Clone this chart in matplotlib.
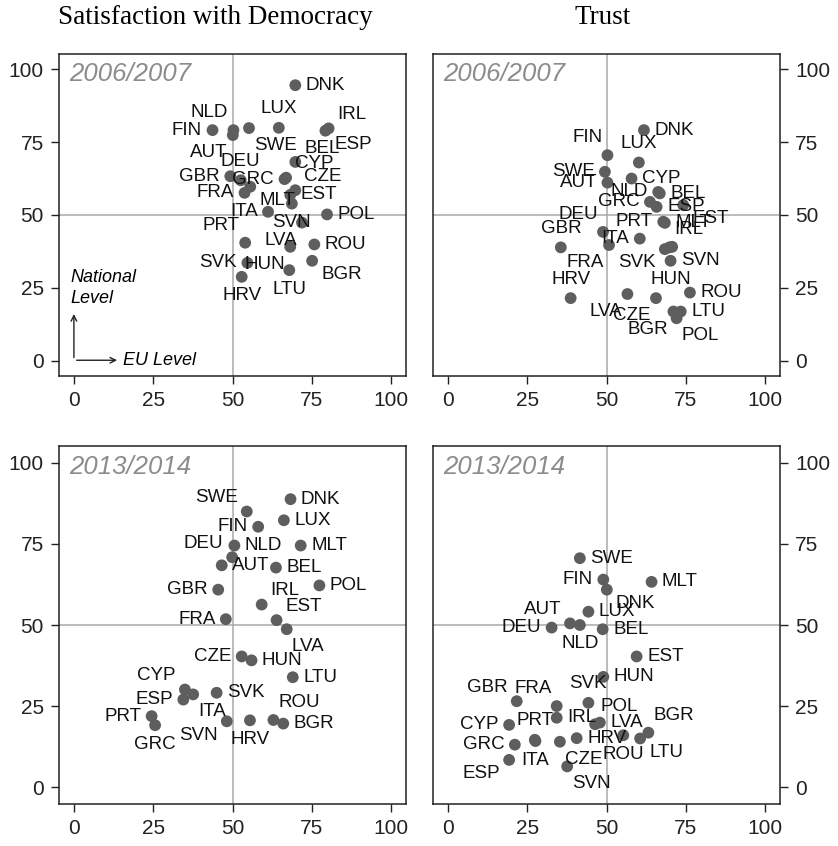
import numpy as np
import matplotlib
matplotlib.use("Agg")
import matplotlib.pyplot as plt

# country codes, same order for every panel
countries = ["AUT", "BEL", "BGR", "CYP", "CZE", "DEU", "DNK", "ESP", "EST", "FIN",
             "FRA", "GBR", "GRC", "HRV", "HUN", "IRL", "ITA", "LTU", "LUX", "LVA",
             "MLT", "NLD", "POL", "PRT", "ROU", "SVK", "SVN", "SWE"]

# Satisfaction with democracy 2006/2007 (x = EU level, y = national level)
sat_0607_eu = [50.1, 69.8, 75.1, 66.9, 69.8, 52.6, 69.8, 79.3, 68.2, 43.7,
               53.8, 49.3, 66.4, 52.9, 68.2, 80.3, 61.2, 67.9, 64.6, 71.9,
               55.6, 50.3, 79.8, 54.0, 75.8, 54.7, 68.7, 55.2]
sat_0607_nat = [77.4, 68.2, 34.3, 62.8, 58.5, 61.9, 94.5, 78.9, 56.9, 79.1,
                57.6, 63.3, 62.3, 28.8, 39.1, 79.7, 51.1, 31.1, 79.9, 47.4,
                59.7, 79.1, 50.2, 40.5, 39.9, 33.6, 53.9, 79.8]

# Trust 2006/2007
tru_0607_eu = [50.3, 66.8, 71.1, 57.9, 65.6, 48.9, 61.8, 65.8, 74.2, 50.3,
               50.8, 35.6, 63.7, 38.7, 70.2, 69.8, 60.5, 73.4, 60.2, 56.6,
               68.4, 66.3, 72.1, 67.9, 76.3, 68.4, 70.7, 49.5]
tru_0607_nat = [61.1, 57.4, 16.9, 62.5, 21.5, 44.2, 79.1, 52.8, 53.4, 70.5,
                39.7, 38.9, 54.5, 21.5, 34.3, 38.9, 41.9, 16.9, 68.0, 22.9,
                47.3, 57.9, 14.6, 47.7, 23.4, 38.3, 39.1, 64.8]

# Satisfaction with democracy 2013/2014
sat_1314_eu = [46.6, 63.7, 66.0, 35.0, 52.9, 49.9, 68.3, 34.5, 63.9, 58.1,
               47.9, 45.5, 25.6, 55.5, 56.0, 59.2, 37.6, 69.0, 66.2, 67.1,
               71.5, 50.6, 77.4, 24.5, 62.9, 45.0, 48.2, 54.5]
sat_1314_nat = [68.4, 67.7, 19.6, 30.1, 40.3, 70.9, 88.8, 27.0, 51.5, 80.3,
                51.8, 60.9, 19.1, 20.6, 39.1, 56.3, 28.6, 33.9, 82.3, 48.7,
                74.5, 74.5, 62.2, 21.9, 20.7, 29.1, 20.3, 85.0]

# Trust 2013/2014
tru_1314_eu = [38.5, 48.8, 63.2, 19.3, 35.3, 32.7, 50.1, 19.3, 59.5, 49.0,
               34.3, 21.7, 21.1, 40.6, 49.0, 34.3, 27.6, 60.6, 44.3, 47.9,
               64.2, 41.6, 46.4, 27.4, 55.3, 44.3, 37.6, 41.6]
tru_1314_nat = [50.5, 48.7, 16.8, 19.2, 14.0, 49.2, 60.9, 8.4, 40.3, 64.0,
                25.0, 26.5, 13.1, 15.1, 34.0, 21.4, 14.2, 15.0, 54.1, 19.9,
                63.3, 50.0, 19.4, 14.6, 16.0, 26.0, 6.4, 70.6]

col_titles = ["Satisfaction with Democracy", "Trust"]
years = ["2006/2007", "2013/2014"]
ticks = [0, 25, 50, 75, 100]

# label placement (clock positions, like stata mlabposition)
pos_sat_0607 = [7, 2, 4, 2, 2, 12, 3, 4, 3, 9, 9, 9, 9, 6, 7, 2, 9, 6, 12, 7,
                4, 11, 3, 11, 3, 9, 6, 5]
pos_tru_0607 = [9, 3, 7, 3, 7, 11, 3, 3, 4, 11, 7, 12, 9, 12, 6, 1, 9, 3, 12, 7,
                3, 9, 5, 9, 3, 8, 4, 9]
pos_sat_1314 = [3, 3, 3, 10, 9, 10, 3, 9, 2, 9, 9, 9, 6, 6, 3, 2, 5, 3, 3, 5,
                3, 3, 3, 9, 1, 3, 8, 10]
pos_tru_1314 = [10, 3, 1, 9, 5, 9, 4, 8, 3, 9, 11, 10, 9, 3, 3, 3, 6, 4, 3, 3,
                3, 6, 1, 12, 6, 12, 5, 3]

W, H = 838, 846
fig = plt.figure(figsize=(W / 100, H / 100), dpi=100)
plt.rcParams['font.family'] = ['Liberation Sans', 'DejaVu Sans']

dot_col = '#5e5e5e'
tick_font = dict(family=['Liberation Sans Narrow', 'Liberation Sans'], size=15)


def place(pos, r=7.5):
    ang = np.deg2rad(90 - pos * 30)
    dx, dy = r * np.cos(ang), r * np.sin(ang)
    ha = 'left' if dx > 1 else ('right' if dx < -1 else 'center')
    va = 'bottom' if dy > 1 else ('top' if dy < -1 else 'center')
    return dx, dy, ha, va


def panel(rect, xs, ys, pos, year, right=False, arrows=False):
    l, t, r, b = rect
    ax = fig.add_axes([l / W, 1 - b / H, (r - l) / W, (b - t) / H])
    ax.set_xlim(-4.7, 104.7)
    ax.set_ylim(-5.2, 105.2)
    ax.axvline(50, color='#a8a8a8', lw=1.1, zorder=0)
    ax.axhline(50, color='#a8a8a8', lw=1.1, zorder=0)
    ax.scatter(xs, ys, s=72, color=dot_col, edgecolors='none', zorder=3)
    for c, x, y, p in zip(countries, xs, ys, pos):
        dx, dy, ha, va = place(p)
        ax.annotate(c, (x, y), xytext=(dx, dy), textcoords='offset points',
                    ha=ha, va=va, fontsize=13.5, color='#111111', zorder=4)
    ax.text(0.03, 0.975, year, transform=ax.transAxes, ha='left', va='top',
            fontsize=18.5, style='italic', color='#8c8c8c')
    ax.set_xticks(ticks)
    ax.set_yticks(ticks)
    ax.set_xticklabels([str(v) for v in ticks], fontdict=tick_font)
    ax.set_yticklabels([str(v) for v in ticks], fontdict=tick_font)
    ax.tick_params(direction='out', length=6, width=1, colors='#222222', pad=5)
    if right:
        ax.yaxis.tick_right()
    for sp in ax.spines.values():
        sp.set_linewidth(1.1)
        sp.set_color('#222222')
    if arrows:
        ax.annotate('', xy=(0, 17), xytext=(0, 0.2),
                    arrowprops=dict(arrowstyle='->', lw=1, color='#222222'))
        ax.annotate('', xy=(14.5, 0.2), xytext=(0, 0.2),
                    arrowprops=dict(arrowstyle='->', lw=1, color='#222222'))
        ax.text(15.5, 0.2, 'EU Level', style='italic', fontsize=13, va='center')
        ax.text(-1, 25, 'National\nLevel', style='italic', fontsize=13,
                va='center', linespacing=1.25)
    return ax


panel((59, 54, 406, 376), sat_0607_eu, sat_0607_nat, pos_sat_0607, years[0], arrows=True)
panel((433, 54, 780, 376), tru_0607_eu, tru_0607_nat, pos_tru_0607, years[0], right=True)
panel((59, 446, 406, 804), sat_1314_eu, sat_1314_nat, pos_sat_1314, years[1])
panel((433, 446, 780, 804), tru_1314_eu, tru_1314_nat, pos_tru_1314, years[1], right=True)

fig.text(215 / W, 1 - 18 / H, col_titles[0], ha='center', va='center',
         family='Liberation Serif', fontsize=19.5)
fig.text(603 / W, 1 - 18 / H, col_titles[1], ha='center', va='center',
         family='Liberation Serif', fontsize=19.5)

fig.savefig("out.png", dpi=100, facecolor='white')
